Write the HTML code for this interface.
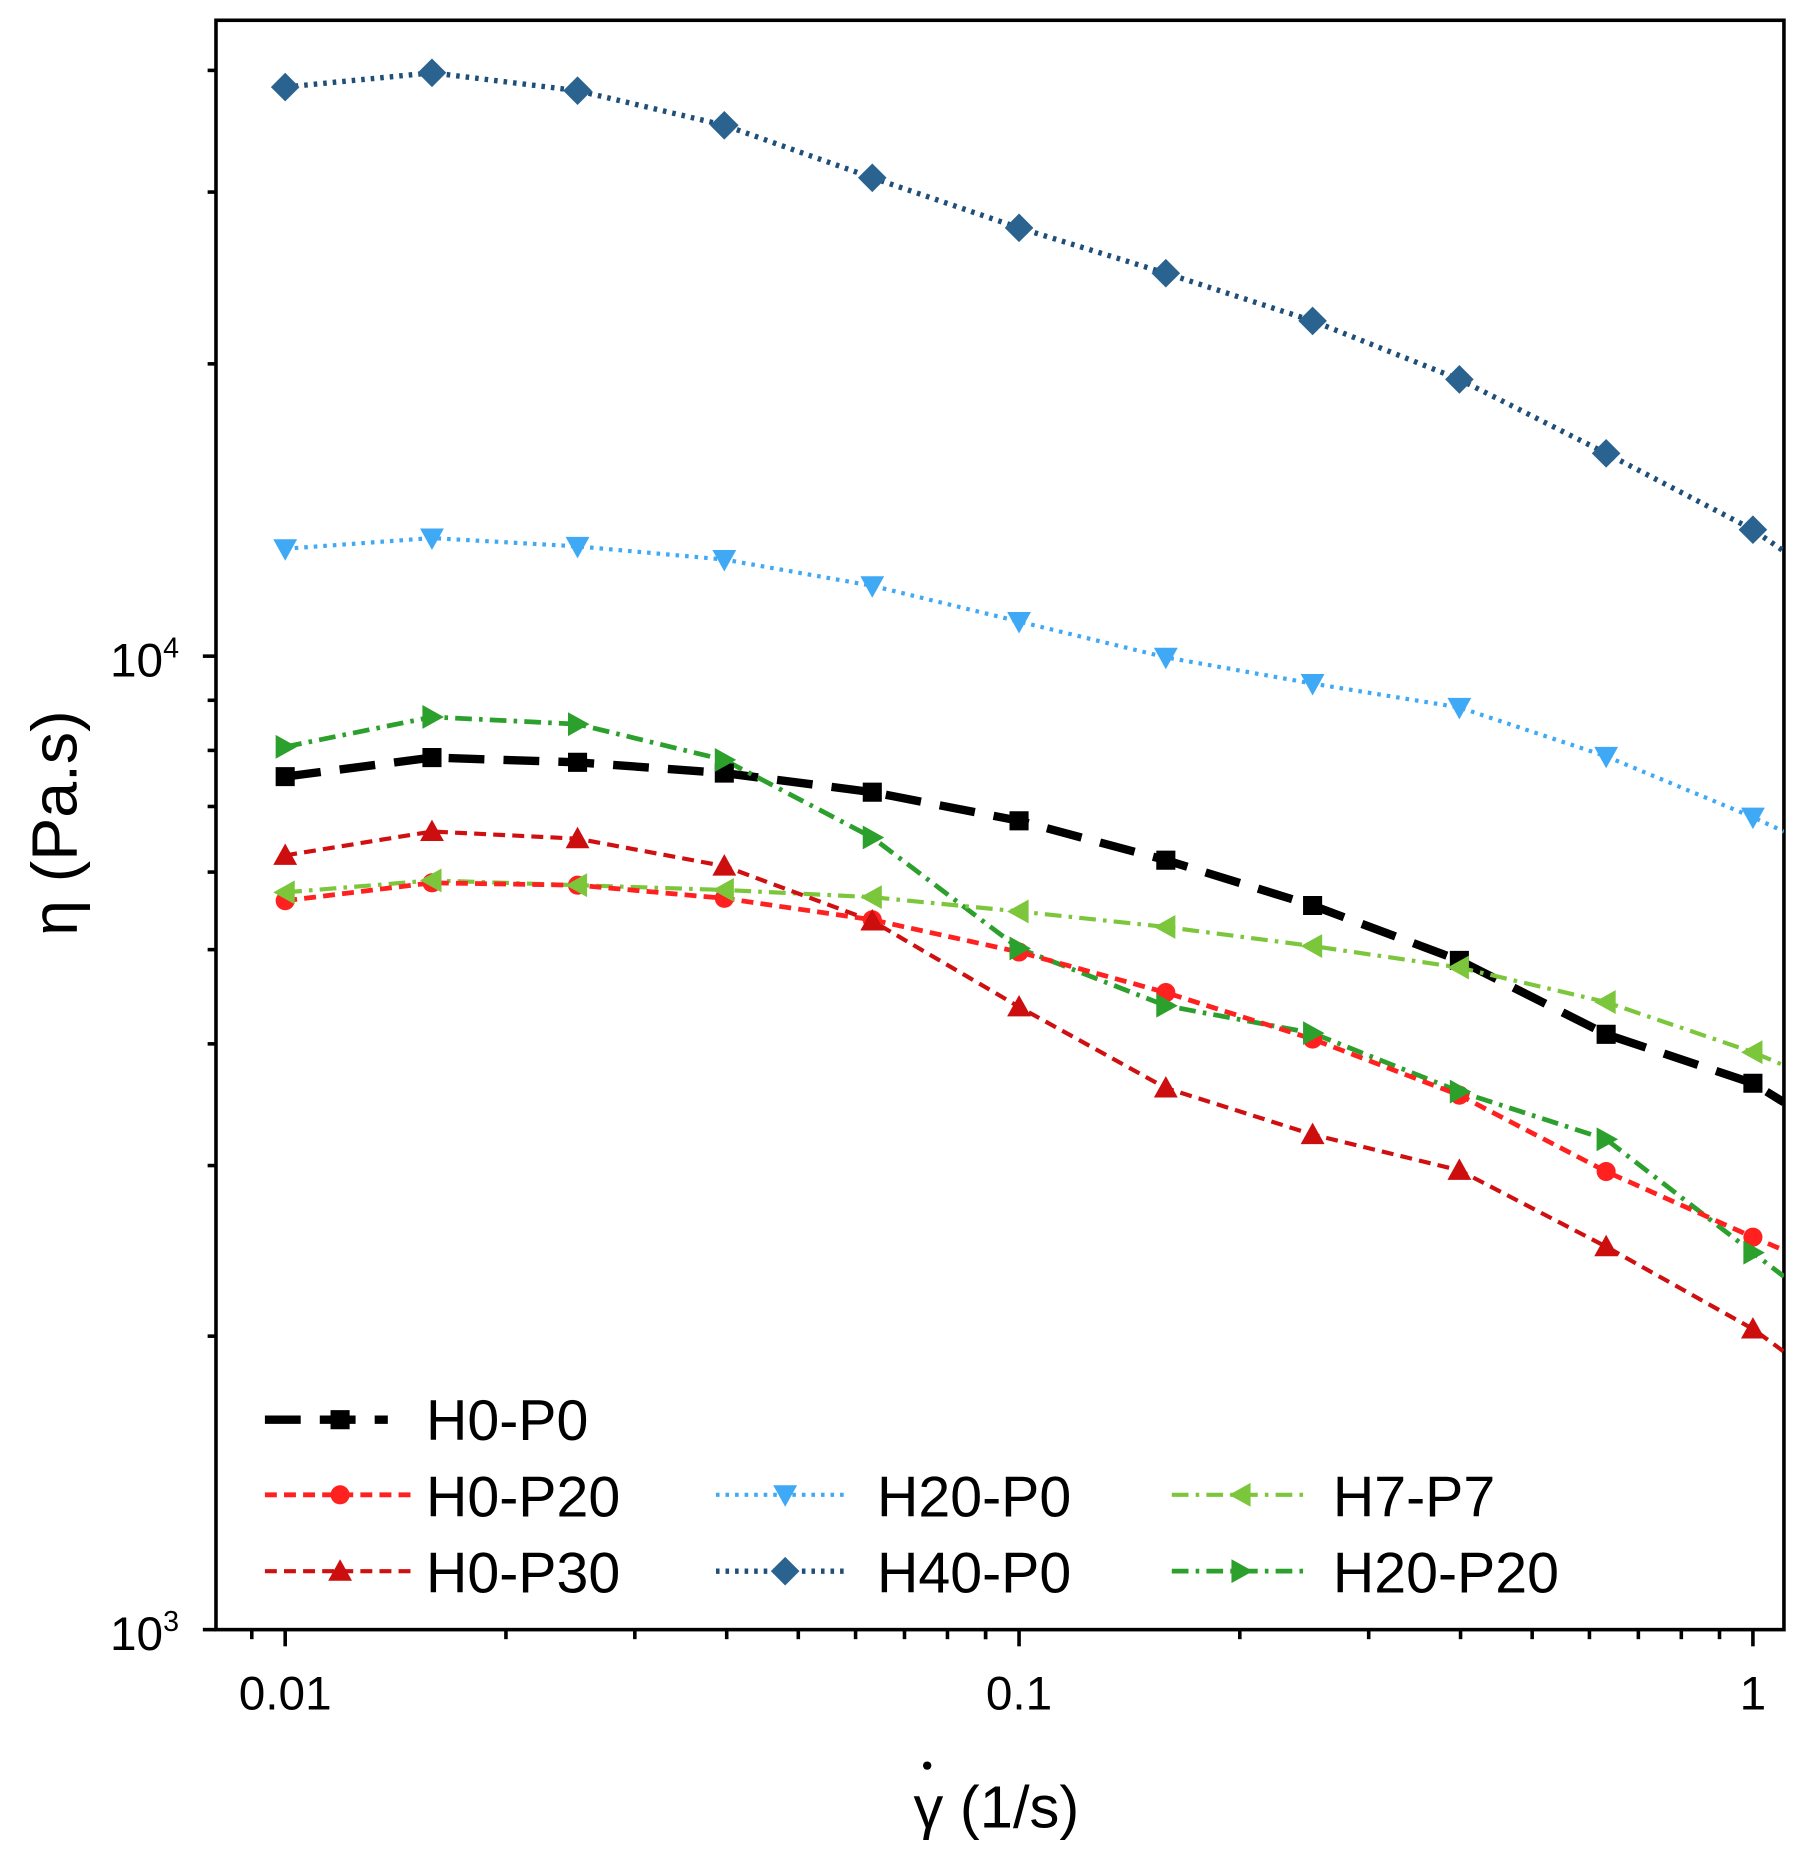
<!DOCTYPE html>
<html><head><meta charset="utf-8"><style>html,body{margin:0;padding:0;background:#fff}svg{display:block}</style></head>
<body>
<svg width="1809" height="1873" viewBox="0 0 1516 1570" preserveAspectRatio="none" xmlns="http://www.w3.org/2000/svg" font-family="Liberation Sans, sans-serif">
<defs>
<path id="sq" d="M-8,-8h16v16h-16z"/>
<circle id="ci" r="8"/>
<path id="tu" d="M0,-10L10,8H-10z"/>
<path id="td" d="M0,10L10,-8H-10z"/>
<path id="di" d="M0,-12L12,0L0,12L-12,0z"/>
<path id="tl" d="M-10,0L8,-10V10z"/>
<path id="tr" d="M10,0L-8,-10V10z"/>
<clipPath id="cp"><rect x="181" y="17" width="1314" height="1349"/></clipPath>
</defs>
<rect x="181" y="17" width="1314" height="1349" fill="none" stroke="#000" stroke-width="3"/>
<g stroke="#000" stroke-width="3">
<line x1="170" y1="550" x2="181" y2="550"/><line x1="170" y1="1366" x2="181" y2="1366"/>
<line x1="174" y1="1120" x2="181" y2="1120"/><line x1="174" y1="977" x2="181" y2="977"/><line x1="174" y1="875" x2="181" y2="875"/><line x1="174" y1="796" x2="181" y2="796"/><line x1="174" y1="731" x2="181" y2="731"/><line x1="174" y1="676" x2="181" y2="676"/><line x1="174" y1="629" x2="181" y2="629"/><line x1="174" y1="587" x2="181" y2="587"/><line x1="174" y1="305" x2="181" y2="305"/><line x1="174" y1="161" x2="181" y2="161"/><line x1="174" y1="59" x2="181" y2="59"/>
<line x1="239" y1="1366" x2="239" y2="1380"/><line x1="854" y1="1366" x2="854" y2="1380"/><line x1="1469" y1="1366" x2="1469" y2="1380"/>
<g id="mx">
<line x1="211" y1="1366" x2="211" y2="1374"/>
<line x1="424" y1="1366" x2="424" y2="1374"/><line x1="532" y1="1366" x2="532" y2="1374"/><line x1="609" y1="1366" x2="609" y2="1374"/><line x1="669" y1="1366" x2="669" y2="1374"/><line x1="717" y1="1366" x2="717" y2="1374"/><line x1="758" y1="1366" x2="758" y2="1374"/><line x1="794" y1="1366" x2="794" y2="1374"/><line x1="826" y1="1366" x2="826" y2="1374"/>
</g>
<use href="#mx" x="615"/>
</g>
<g font-size="40" text-anchor="middle" fill="#000">
<text x="239" y="1433">0.01</text><text x="854" y="1433">0.1</text><text x="1469" y="1433">1</text>
<text x="150" y="1383" text-anchor="end">10<tspan font-size="24" dy="-16">3</tspan></text>
<text x="150" y="567" text-anchor="end">10<tspan font-size="24" dy="-16">4</tspan></text>
</g>
<text transform="translate(64,690) rotate(-90)" font-size="54" text-anchor="middle">η (Pa.s)</text>
<text x="835" y="1532" font-size="50" text-anchor="middle">γ (1/s)</text>
<circle cx="777" cy="1480" r="3.5" fill="#000"/>
<g clip-path="url(#cp)" fill="none">
<polyline stroke="#1f4f78" stroke-width="4.5" stroke-dasharray="3,5" points="239,73 362,61 484,76 607,105 731,149 854,191 977,229 1100,269 1223,318 1346,380 1469,444 1495,462"/>
<polyline stroke="#3fa9f5" stroke-width="3.5" stroke-dasharray="3,5" points="239,460 362,451 484,458 607,469 731,491 854,521 977,551 1100,573 1223,593 1346,634 1469,685 1495,697"/>
<polyline stroke="#000" stroke-width="7" stroke-dasharray="30,16" points="239,651 362,635 484,639 607,648 731,664 854,688 977,721 1100,759 1223,805 1346,867 1469,908 1495,924"/>
<polyline stroke="#2ca02c" stroke-width="4" stroke-dasharray="14,6,3,6" points="239,626 362,601 484,607 607,637 731,702 854,795 977,843 1100,866 1223,915 1346,955 1469,1050 1495,1070"/>
<polyline stroke="#7cc63c" stroke-width="3.5" stroke-dasharray="14,6,3,6" points="239,748 362,738 484,742 607,746 731,752 854,764 977,777 1100,793 1223,811 1346,840 1469,882 1495,893"/>
<polyline stroke="#ff2020" stroke-width="4" stroke-dasharray="10,6" points="239,755 362,740 484,742 607,753 731,771 854,798 977,832 1100,871 1223,918 1346,982 1469,1037 1495,1048"/>
<polyline stroke="#d01010" stroke-width="3.5" stroke-dasharray="10,6" points="239,717 362,697 484,703 607,726 731,772 854,844 977,912 1100,951 1223,981 1346,1045 1469,1114 1495,1133"/>
</g>
<g fill="#2a6390">
<use href="#di" x="239" y="73"/><use href="#di" x="362" y="61"/><use href="#di" x="484" y="76"/><use href="#di" x="607" y="105"/><use href="#di" x="731" y="149"/><use href="#di" x="854" y="191"/><use href="#di" x="977" y="229"/><use href="#di" x="1100" y="269"/><use href="#di" x="1223" y="318"/><use href="#di" x="1346" y="380"/><use href="#di" x="1469" y="444"/>
</g>
<g fill="#3fa9f5">
<use href="#td" x="239" y="460"/><use href="#td" x="362" y="451"/><use href="#td" x="484" y="458"/><use href="#td" x="607" y="469"/><use href="#td" x="731" y="491"/><use href="#td" x="854" y="521"/><use href="#td" x="977" y="551"/><use href="#td" x="1100" y="573"/><use href="#td" x="1223" y="593"/><use href="#td" x="1346" y="634"/><use href="#td" x="1469" y="685"/>
</g>
<g fill="#000">
<use href="#sq" x="239" y="651"/><use href="#sq" x="362" y="635"/><use href="#sq" x="484" y="639"/><use href="#sq" x="607" y="648"/><use href="#sq" x="731" y="664"/><use href="#sq" x="854" y="688"/><use href="#sq" x="977" y="721"/><use href="#sq" x="1100" y="759"/><use href="#sq" x="1223" y="805"/><use href="#sq" x="1346" y="867"/><use href="#sq" x="1469" y="908"/>
</g>
<g fill="#ff2020">
<use href="#ci" x="239" y="755"/><use href="#ci" x="362" y="740"/><use href="#ci" x="484" y="742"/><use href="#ci" x="607" y="753"/><use href="#ci" x="731" y="771"/><use href="#ci" x="854" y="798"/><use href="#ci" x="977" y="832"/><use href="#ci" x="1100" y="871"/><use href="#ci" x="1223" y="918"/><use href="#ci" x="1346" y="982"/><use href="#ci" x="1469" y="1037"/>
</g>
<g fill="#cc0e0e">
<use href="#tu" x="239" y="717"/><use href="#tu" x="362" y="697"/><use href="#tu" x="484" y="703"/><use href="#tu" x="607" y="726"/><use href="#tu" x="731" y="772"/><use href="#tu" x="854" y="844"/><use href="#tu" x="977" y="912"/><use href="#tu" x="1100" y="951"/><use href="#tu" x="1223" y="981"/><use href="#tu" x="1346" y="1045"/><use href="#tu" x="1469" y="1114"/>
</g>
<g fill="#7cc63c">
<use href="#tl" x="239" y="748"/><use href="#tl" x="362" y="738"/><use href="#tl" x="484" y="742"/><use href="#tl" x="607" y="746"/><use href="#tl" x="731" y="752"/><use href="#tl" x="854" y="764"/><use href="#tl" x="977" y="777"/><use href="#tl" x="1100" y="793"/><use href="#tl" x="1223" y="811"/><use href="#tl" x="1346" y="840"/><use href="#tl" x="1469" y="882"/>
</g>
<g fill="#2ca02c">
<use href="#tr" x="239" y="626"/><use href="#tr" x="362" y="601"/><use href="#tr" x="484" y="607"/><use href="#tr" x="607" y="637"/><use href="#tr" x="731" y="702"/><use href="#tr" x="854" y="795"/><use href="#tr" x="977" y="843"/><use href="#tr" x="1100" y="866"/><use href="#tr" x="1223" y="915"/><use href="#tr" x="1346" y="955"/><use href="#tr" x="1469" y="1050"/>
</g>
<!-- legend -->
<g fill="none">
<line x1="222" y1="1190" x2="325" y2="1190" stroke="#000" stroke-width="7" stroke-dasharray="30,16"/>
<line x1="222" y1="1253" x2="345" y2="1253" stroke="#ff2020" stroke-width="4" stroke-dasharray="10,6"/>
<line x1="222" y1="1317" x2="345" y2="1317" stroke="#d01010" stroke-width="3.5" stroke-dasharray="10,6"/>
<line x1="600" y1="1253" x2="712" y2="1253" stroke="#3fa9f5" stroke-width="3.5" stroke-dasharray="3,5"/>
<line x1="600" y1="1317" x2="712" y2="1317" stroke="#1f4f78" stroke-width="4.5" stroke-dasharray="3,5"/>
<line x1="982" y1="1253" x2="1095" y2="1253" stroke="#7cc63c" stroke-width="3.5" stroke-dasharray="14,6,3,6"/>
<line x1="982" y1="1317" x2="1095" y2="1317" stroke="#2ca02c" stroke-width="4" stroke-dasharray="14,6,3,6"/>
</g>
<use href="#sq" x="285" y="1190" fill="#000"/>
<use href="#ci" x="285" y="1253" fill="#ff2020"/>
<use href="#tu" x="285" y="1317" fill="#cc0e0e"/>
<use href="#td" x="658" y="1253" fill="#3fa9f5"/>
<use href="#di" x="658" y="1317" fill="#2a6390"/>
<use href="#tl" x="1040" y="1253" fill="#7cc63c"/>
<use href="#tr" x="1040" y="1317" fill="#2ca02c"/>
<g font-size="48" fill="#000">
<text x="357" y="1207">H0-P0</text>
<text x="357" y="1271">H0-P20</text>
<text x="357" y="1335">H0-P30</text>
<text x="735" y="1271">H20-P0</text>
<text x="735" y="1335">H40-P0</text>
<text x="1117" y="1271">H7-P7</text>
<text x="1117" y="1335">H20-P20</text>
</g>
</svg>
</body></html>
